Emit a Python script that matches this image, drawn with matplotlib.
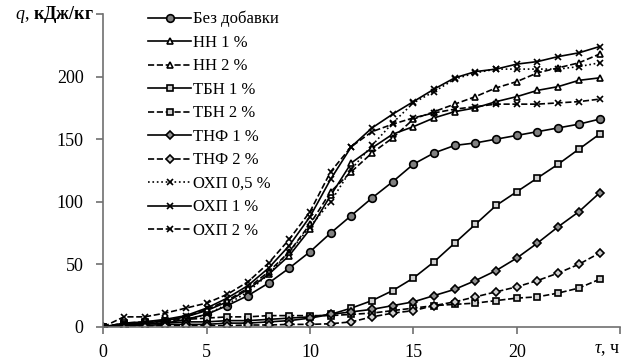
import numpy as np
import matplotlib
matplotlib.use('Agg')
import matplotlib.pyplot as plt

plt.rcParams['font.family'] = ['Liberation Serif', 'DejaVu Serif']
plt.rcParams['mathtext.fontset'] = 'custom'
plt.rcParams['mathtext.rm'] = 'Liberation Serif'
plt.rcParams['mathtext.it'] = 'Liberation Serif:italic'
plt.rcParams['mathtext.bf'] = 'Liberation Serif:bold'

# Time, h
hours = list(range(25))

# Heat release q, kJ/kg
q_base = [0, 1, 2, 3, 6, 10, 17, 25, 35, 47, 60, 75, 89, 103, 116, 130,
          139, 145, 147, 150, 153, 156, 159, 162, 166]
q_nn1 = [0, 2, 3, 5, 8, 13, 20, 30, 42, 57, 78, 105, 131, 143, 154, 160,
         167, 172, 175, 180, 184, 189, 192, 197, 199]
q_nn2 = [0, 2, 3, 5, 8, 14, 21, 31, 44, 60, 82, 108, 124, 139, 151, 166,
         172, 178, 184, 191, 196, 203, 207, 211, 218]
q_tbn1 = [0, 2, 3, 3, 4, 4, 5, 5, 6, 7, 8, 10, 15, 21, 29, 39,
          52, 67, 82, 97, 108, 119, 130, 142, 154]
q_tbn2 = [0, 3, 4, 5, 6, 7, 8, 8, 9, 9, 9, 9, 10, 11, 13, 15,
          17, 18, 19, 21, 23, 24, 27, 31, 38]
q_tnf1 = [0, 1, 1, 2, 2, 2, 3, 3, 4, 5, 7, 10, 12, 14, 17, 20,
          25, 30, 37, 45, 55, 67, 80, 92, 107]
q_tnf2 = [0, 0.5, 0.5, 1, 1, 1, 1, 1.5, 1.5, 2, 2, 2.5, 4, 8, 11, 13,
          17, 20, 24, 28, 32, 37, 43, 50, 59]
q_ohp05 = [0, 2, 3, 4, 6, 10, 18, 28, 42, 60, 80, 100, 126, 145, 163, 179,
           188, 198, 203, 206, 206, 206, 206, 208, 211]
q_ohp1 = [0, 3, 4, 6, 9, 15, 23, 33, 47, 65, 88, 118, 144, 159, 170, 180,
          190, 199, 204, 206, 210, 212, 216, 219, 224]
q_ohp2 = [0, 8, 8, 11, 15, 19, 26, 36, 51, 70, 92, 124, 144, 156, 162, 167,
          171, 174, 176, 178, 178, 178, 179, 180, 182]

labels = ['Без добавки', 'НН 1 %', 'НН 2 %', 'ТБН 1 %', 'ТБН 2 %',
          'ТНФ 1 %', 'ТНФ 2 %', 'ОХП 0,5 %', 'ОХП 1 %', 'ОХП 2 %']
series = [q_base, q_nn1, q_nn2, q_tbn1, q_tbn2, q_tnf1, q_tnf2,
          q_ohp05, q_ohp1, q_ohp2]

# line style, marker, marker size, face colour
styles = [
    ('-', 'o', 5.5, '#808080'),
    ('-', '^', 5, 'white'),
    ('--', '^', 5, 'white'),
    ('-', 's', 5, '#d0d0d0'),
    ('--', 's', 5, '#d0d0d0'),
    ('-', 'D', 4, '#909090'),
    ('--', 'D', 4, '#d0d0d0'),
    (':', 'x', 5, 'black'),
    ('-', 'x', 5, 'black'),
    ('--', 'x', 5, 'black'),
]

fig = plt.figure(figsize=(6.29, 3.6), dpi=100)
ax = fig.add_axes([0.164, 0.092, 0.822, 0.869])

for q, lab, (ls, mk, ms, fc) in zip(series, labels, styles):
    ax.plot(hours, q, linestyle=ls, marker=mk, markersize=ms,
            markerfacecolor=fc, markeredgecolor='black', markeredgewidth=1.2,
            color='black', lw=1.2, label=lab)

ax.set_xlim(0, 25)
ax.set_ylim(0, 250)
ax.set_xticks([0, 5, 10, 15, 20, 25])
ax.set_xticklabels(['0', '5', '10', '15', '20', ''])
ax.set_yticks([0, 50, 100, 150, 200, 250])
ax.set_yticklabels(['0', '50', '100', '150', '200', ''])
ax.spines['top'].set_visible(False)
ax.spines['right'].set_visible(False)
for s in ('left', 'bottom'):
    ax.spines[s].set_color('#707070')
    ax.spines[s].set_linewidth(1.2)
ax.tick_params(axis='both', direction='out', length=5, width=1.2,
               color='#707070', labelsize=13)
ax.tick_params(axis='x', pad=7)
ax.tick_params(axis='y', pad=9)

ax.text(-0.018, 1.0, r'$q$, $\mathbf{кДж/кг}$', transform=ax.transAxes,
        ha='right', va='center', fontsize=13)
ax.text(0.975, -0.045, r'$\tau$, ч', transform=ax.transAxes,
        ha='center', va='top', fontsize=13)

ax.legend(loc='upper left', bbox_to_anchor=(0.087, 1.01), frameon=False,
          fontsize=12, handlelength=2.6, handletextpad=0.1,
          labelspacing=0.45, borderpad=0, borderaxespad=0)

fig.savefig('out.png', dpi=100)
